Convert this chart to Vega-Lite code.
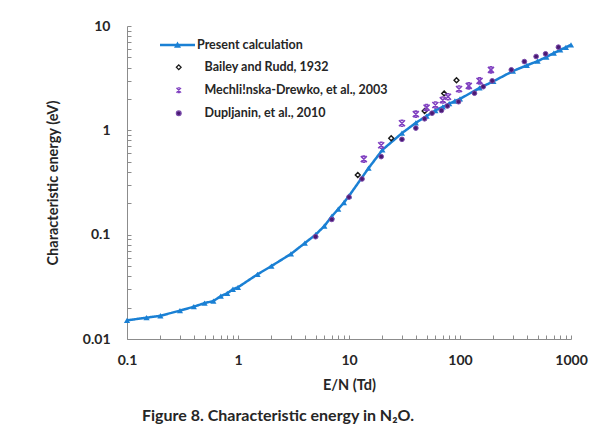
{
  "$schema": "https://vega.github.io/schema/vega-lite/v6.json",
  "width": 444,
  "height": 313,
  "autosize": {"type": "none"},
  "padding": {"left": 127, "top": 26, "right": 29, "bottom": 104},
  "background": "white",
  "config": {
    "view": {"stroke": null},
    "font": "Lato",
    "axis": {
      "grid": false,
      "labelFont": "Lato",
      "labelFontWeight": "bold",
      "labelFontSize": 14,
      "labelColor": "#262626",
      "titleFont": "Lato",
      "titleFontWeight": "bold",
      "titleFontSize": 14.5,
      "titleColor": "#262626",
      "domainColor": "#8c8c8c",
      "tickColor": "#8c8c8c",
      "tickSize": -4
    },
    "legend": {
      "labelFont": "Lato",
      "labelFontWeight": "bold",
      "labelFontSize": 12.5,
      "labelColor": "#262626",
      "labelLimit": 0,
      "padding": 0
    }
  },
  "title": {
    "text": "Figure 8. Characteristic energy in N₂O.",
    "orient": "bottom",
    "anchor": "start",
    "frame": "group",
    "dx": 15,
    "offset": 16,
    "font": "Lato",
    "fontSize": 16,
    "fontWeight": "bold",
    "color": "#262626"
  },
  "datasets": {
    "calc": [
      {"x": 0.1, "y": 0.0151, "model": "Present calculation"},
      {"x": 0.15, "y": 0.016, "model": "Present calculation"},
      {"x": 0.2, "y": 0.0167, "model": "Present calculation"},
      {"x": 0.3, "y": 0.0187, "model": "Present calculation"},
      {"x": 0.4, "y": 0.0204, "model": "Present calculation"},
      {"x": 0.5, "y": 0.0221, "model": "Present calculation"},
      {"x": 0.6, "y": 0.0231, "model": "Present calculation"},
      {"x": 0.7, "y": 0.0258, "model": "Present calculation"},
      {"x": 0.8, "y": 0.0274, "model": "Present calculation"},
      {"x": 0.9, "y": 0.03, "model": "Present calculation"},
      {"x": 1, "y": 0.0313, "model": "Present calculation"},
      {"x": 1.5, "y": 0.0417, "model": "Present calculation"},
      {"x": 2, "y": 0.05, "model": "Present calculation"},
      {"x": 3, "y": 0.0654, "model": "Present calculation"},
      {"x": 4, "y": 0.083, "model": "Present calculation"},
      {"x": 5, "y": 0.1, "model": "Present calculation"},
      {"x": 6, "y": 0.121, "model": "Present calculation"},
      {"x": 7, "y": 0.15, "model": "Present calculation"},
      {"x": 8, "y": 0.176, "model": "Present calculation"},
      {"x": 9, "y": 0.203, "model": "Present calculation"},
      {"x": 10, "y": 0.235, "model": "Present calculation"},
      {"x": 15, "y": 0.434, "model": "Present calculation"},
      {"x": 20, "y": 0.65, "model": "Present calculation"},
      {"x": 30, "y": 0.94, "model": "Present calculation"},
      {"x": 40, "y": 1.18, "model": "Present calculation"},
      {"x": 50, "y": 1.37, "model": "Present calculation"},
      {"x": 60, "y": 1.55, "model": "Present calculation"},
      {"x": 70, "y": 1.68, "model": "Present calculation"},
      {"x": 80, "y": 1.8, "model": "Present calculation"},
      {"x": 90, "y": 1.91, "model": "Present calculation"},
      {"x": 100, "y": 2.0, "model": "Present calculation"},
      {"x": 150, "y": 2.55, "model": "Present calculation"},
      {"x": 200, "y": 2.95, "model": "Present calculation"},
      {"x": 300, "y": 3.7, "model": "Present calculation"},
      {"x": 400, "y": 4.2, "model": "Present calculation"},
      {"x": 500, "y": 4.6, "model": "Present calculation"},
      {"x": 600, "y": 5.05, "model": "Present calculation"},
      {"x": 700, "y": 5.5, "model": "Present calculation"},
      {"x": 800, "y": 5.9, "model": "Present calculation"},
      {"x": 900, "y": 6.25, "model": "Present calculation"},
      {"x": 1000, "y": 6.6, "model": "Present calculation"}
    ],
    "exp": [
      {"x": 12, "y": 0.373, "series": "Bailey and Rudd, 1932"},
      {"x": 24, "y": 0.84, "series": "Bailey and Rudd, 1932"},
      {"x": 48, "y": 1.53, "series": "Bailey and Rudd, 1932"},
      {"x": 72, "y": 2.26, "series": "Bailey and Rudd, 1932"},
      {"x": 93, "y": 3.02, "series": "Bailey and Rudd, 1932"},
      {"x": 13.6, "y": 0.53, "series": "Mechli!nska-Drewko, et al., 2003"},
      {"x": 19.5, "y": 0.72, "series": "Mechli!nska-Drewko, et al., 2003"},
      {"x": 30, "y": 1.17, "series": "Mechli!nska-Drewko, et al., 2003"},
      {"x": 40, "y": 1.43, "series": "Mechli!nska-Drewko, et al., 2003"},
      {"x": 50, "y": 1.65, "series": "Mechli!nska-Drewko, et al., 2003"},
      {"x": 60, "y": 1.75, "series": "Mechli!nska-Drewko, et al., 2003"},
      {"x": 70, "y": 1.95, "series": "Mechli!nska-Drewko, et al., 2003"},
      {"x": 78, "y": 2.1, "series": "Mechli!nska-Drewko, et al., 2003"},
      {"x": 98, "y": 2.49, "series": "Mechli!nska-Drewko, et al., 2003"},
      {"x": 120, "y": 2.67, "series": "Mechli!nska-Drewko, et al., 2003"},
      {"x": 150, "y": 2.98, "series": "Mechli!nska-Drewko, et al., 2003"},
      {"x": 190, "y": 3.8, "series": "Mechli!nska-Drewko, et al., 2003"},
      {"x": 5, "y": 0.0956, "series": "Dupljanin, et al., 2010"},
      {"x": 7, "y": 0.14, "series": "Dupljanin, et al., 2010"},
      {"x": 10, "y": 0.229, "series": "Dupljanin, et al., 2010"},
      {"x": 13.1, "y": 0.342, "series": "Dupljanin, et al., 2010"},
      {"x": 19.5, "y": 0.56, "series": "Dupljanin, et al., 2010"},
      {"x": 30, "y": 0.82, "series": "Dupljanin, et al., 2010"},
      {"x": 40, "y": 1.05, "series": "Dupljanin, et al., 2010"},
      {"x": 48, "y": 1.29, "series": "Dupljanin, et al., 2010"},
      {"x": 56, "y": 1.46, "series": "Dupljanin, et al., 2010"},
      {"x": 68, "y": 1.55, "series": "Dupljanin, et al., 2010"},
      {"x": 77, "y": 1.71, "series": "Dupljanin, et al., 2010"},
      {"x": 97, "y": 1.88, "series": "Dupljanin, et al., 2010"},
      {"x": 135, "y": 2.27, "series": "Dupljanin, et al., 2010"},
      {"x": 162, "y": 2.62, "series": "Dupljanin, et al., 2010"},
      {"x": 195, "y": 2.98, "series": "Dupljanin, et al., 2010"},
      {"x": 290, "y": 3.8, "series": "Dupljanin, et al., 2010"},
      {"x": 380, "y": 4.56, "series": "Dupljanin, et al., 2010"},
      {"x": 485, "y": 5.1, "series": "Dupljanin, et al., 2010"},
      {"x": 590, "y": 5.41, "series": "Dupljanin, et al., 2010"},
      {"x": 770, "y": 6.27, "series": "Dupljanin, et al., 2010"}
    ]
  },
  "encoding": {
    "x": {
      "field": "x",
      "type": "quantitative",
      "scale": {"type": "log", "domain": [0.1, 1000], "nice": false},
      "axis": {
        "title": "E/N (Td)",
        "format": "~g",
        "values": [0.1,0.2,0.3,0.4,0.5,0.6,0.7,0.8,0.9,1,2,3,4,5,6,7,8,9,10,20,30,40,50,60,70,80,90,100,200,300,400,500,600,700,800,900,1000],
        "labelExpr": "indexof([0.1,1,10,100,1000], datum.value) >= 0 ? datum.label : ''",
        "labelPadding": 18,
        "labelFlush": false,
        "labelOverlap": false,
        "titlePadding": 11
      }
    },
    "y": {
      "field": "y",
      "type": "quantitative",
      "scale": {"type": "log", "domain": [0.01, 10], "nice": false},
      "axis": {
        "title": "Characteristic energy (eV)",
        "format": "~g",
        "values": [0.01,0.02,0.03,0.04,0.05,0.06,0.07,0.08,0.09,0.1,0.2,0.3,0.4,0.5,0.6,0.7,0.8,0.9,1,2,3,4,5,6,7,8,9,10],
        "labelExpr": "indexof([0.01,0.1,1,10], datum.value) >= 0 ? datum.label : ''",
        "labelPadding": 21,
        "labelFlush": false,
        "labelOverlap": false,
        "titlePadding": 22
      }
    },
    "shape": {
      "field": "series",
      "type": "nominal",
      "scale": {
        "domain": ["Bailey and Rudd, 1932", "Mechli!nska-Drewko, et al., 2003", "Dupljanin, et al., 2010"],
        "range": ["diamond", "M-1,-1L1,1M-1,1L1,-1M-0.5,-1H0.5M-0.5,1H0.5", "circle"]
      },
      "legend": {
        "title": null,
        "orient": "none",
        "legendX": 45.5,
        "legendY": 35,
        "symbolSize": 22,
        "labelOffset": 19.5,
        "rowPadding": 10,
        "symbolStrokeWidth": 1.3
      }
    },
    "fill": {
      "field": "series",
      "type": "nominal",
      "scale": {
        "domain": ["Bailey and Rudd, 1932", "Mechli!nska-Drewko, et al., 2003", "Dupljanin, et al., 2010"],
        "range": ["#ffffff", "transparent", "#4a1a72"]
      },
      "legend": {
        "title": null,
        "orient": "none",
        "legendX": 45.5,
        "legendY": 35,
        "symbolSize": 22,
        "labelOffset": 19.5,
        "rowPadding": 10,
        "symbolStrokeWidth": 1.3
      }
    },
    "stroke": {
      "field": "series",
      "type": "nominal",
      "scale": {
        "domain": ["Bailey and Rudd, 1932", "Mechli!nska-Drewko, et al., 2003", "Dupljanin, et al., 2010"],
        "range": ["#1a1a1a", "#8040c0", "#7a4aaa"]
      },
      "legend": {
        "title": null,
        "orient": "none",
        "legendX": 45.5,
        "legendY": 35,
        "symbolSize": 22,
        "labelOffset": 19.5,
        "rowPadding": 10,
        "symbolStrokeWidth": 1.3
      }
    }
  },
  "layer": [
    {
      "data": {"name": "calc"},
      "mark": {"type": "line", "color": "#1a80d4", "strokeWidth": 2.5},
      "encoding": {
        "shape": null,
        "fill": null,
        "stroke": null,
        "strokeDash": {
          "field": "model",
          "type": "nominal",
          "scale": {"range": [[1, 0]]},
          "legend": {
            "title": null,
            "orient": "none",
            "legendX": 33,
            "legendY": 1.5,
            "symbolType": "M-1,-0.07H1V0.07H-1Z M0,-0.2L0.2,0.15H-0.2Z",
            "symbolSize": 1225,
            "symbolStrokeWidth": 0,
            "symbolStrokeColor": "transparent",
            "symbolFillColor": "#1a80d4",
            "labelOffset": 2,
            "encode": {
              "symbols": {
                "update": {
                  "fill": {"value": "#1a80d4"},
                  "stroke": {"value": "transparent"},
                  "strokeWidth": {"value": 0}
                }
              }
            }
          }
        }
      }
    },
    {
      "data": {"name": "calc"},
      "mark": {"type": "point", "shape": "triangle-up", "filled": true, "size": 38, "color": "#1a80d4", "opacity": 1},
      "encoding": {"shape": null, "fill": null, "stroke": null}
    },
    {
      "data": {"name": "exp"},
      "transform": [{"filter": "datum.series === 'Bailey and Rudd, 1932'"}],
      "mark": {"type": "point", "filled": true, "strokeWidth": 1.4, "size": 24, "opacity": 1}
    },
    {
      "data": {"name": "exp"},
      "transform": [{"filter": "datum.series === 'Mechli!nska-Drewko, et al., 2003'"}],
      "mark": {"type": "point", "filled": true, "strokeWidth": 1.6, "size": 36, "opacity": 1}
    },
    {
      "data": {"name": "exp"},
      "transform": [{"filter": "datum.series === 'Dupljanin, et al., 2010'"}],
      "mark": {"type": "point", "filled": true, "strokeWidth": 1, "size": 22, "opacity": 1}
    }
  ]
}
